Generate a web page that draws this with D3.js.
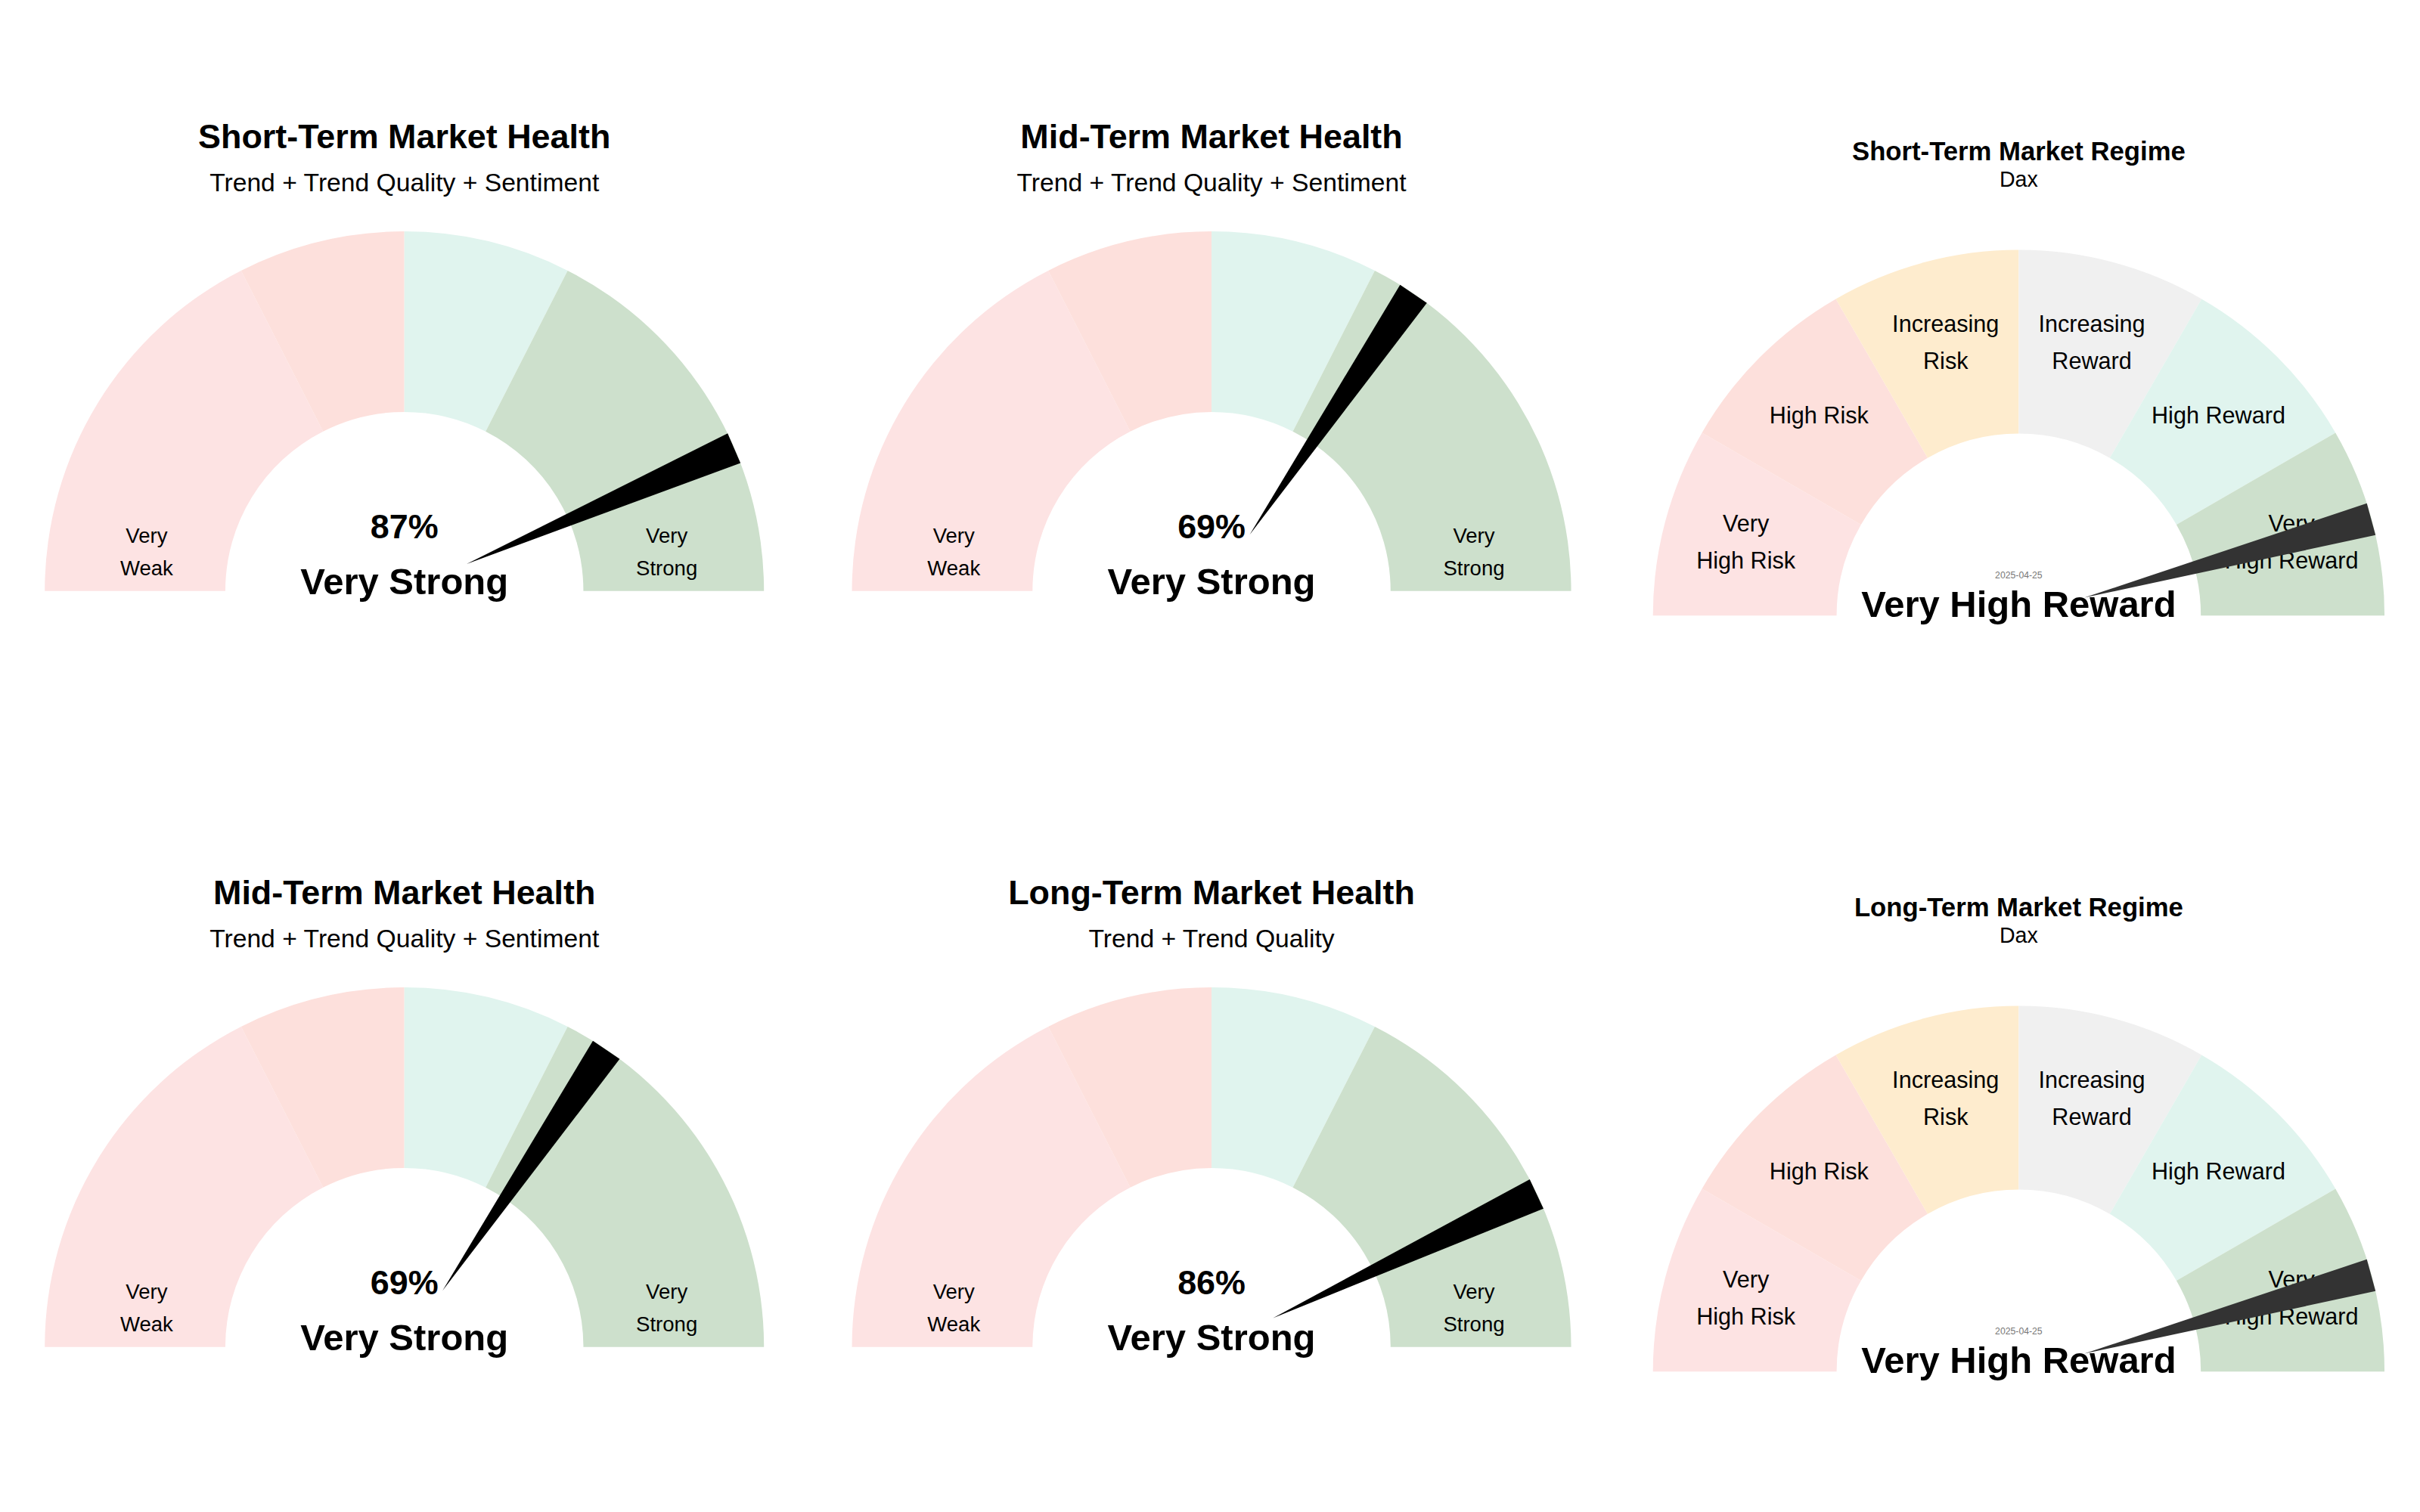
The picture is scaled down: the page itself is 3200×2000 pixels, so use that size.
<!DOCTYPE html>
<html><head><meta charset="utf-8">
<script src="https://cdn.jsdelivr.net/npm/d3@7"></script>
<style>body{margin:0;background:#fff}text{font-family:"Liberation Sans",Arial,sans-serif}</style>
</head><body>
<svg class="face" width="3200" height="2000" viewBox="0 0 1568 980"></svg>
<script>
const svg = d3.select('.face')

// health gauges
const healthTitles = ['Short-Term Market Health','Mid-Term Market Health','Mid-Term Market Health','Long-Term Market Health']
const healthSubtitles = ['Trend + Trend Quality + Sentiment','Trend + Trend Quality + Sentiment','Trend + Trend Quality + Sentiment','Trend + Trend Quality']
const healthValues = [87,69,69,86]
const healthLabels = ['Very Strong','Very Strong','Very Strong','Very Strong']
const healthBreaks = [0,35,50,65,100]
const healthColors = ['#fde3e3','#fde0dc','#e0f4ee','#cde0cc']

// regime gauges
const regimeTitles = ['Short-Term Market Regime','Long-Term Market Regime']
const regimeSubtitle = 'Dax'
const regimeValues = [91.5,91.5]
const regimeLabels = ['Very High Reward','Very High Reward']
const regimeDate = '2025-04-25'
const regimeBands = [['Very','High Risk'],['High Risk'],['Increasing','Risk'],['Increasing','Reward'],['High Reward'],['Very','High Reward']]
const regimeColors = ['#fde3e3','#fde0dc','#feecce','#f0f0f0','#e0f4ee','#cde0cc']

const healthPos = [[262,383],[785,383],[262,873],[785,873]]
const regimePos = [[1308,399],[1308,889]]

// value (0-100) -> angle in radians for d3.arc (0 = up, -PI/2 = left)
const angle = d3.scaleLinear().domain([0,100]).range([-Math.PI/2, Math.PI/2])
const pt = (r,a) => [r*Math.sin(a), -r*Math.cos(a)]

function needle(g, v, rOut, fill){
  const a = angle(v), w = 0.045
  const base = pt(44,a), p1 = pt(rOut, a-w), p2 = pt(rOut, a+w)
  g.append('path').attr('d',`M${base}L${p1}L${p2}Z`).attr('fill',fill)
}

healthValues.forEach((v,i)=>{
  const [cx,cy] = healthPos[i], rO = 233, rI = 116
  const g = svg.append('g').attr('transform',`translate(${cx},${cy})`)
  const arc = d3.arc().innerRadius(rI).outerRadius(rO)
  g.selectAll('path.seg').data(d3.pairs(healthBreaks)).join('path').attr('class','seg')
    .attr('d',d=>arc({startAngle:angle(d[0]),endAngle:angle(d[1])}))
    .attr('fill',(d,j)=>healthColors[j])
  g.append('text').attr('y',-287).attr('text-anchor','middle').attr('font-size',22).attr('font-weight','bold').text(healthTitles[i])
  g.append('text').attr('y',-259).attr('text-anchor','middle').attr('font-size',16.5).text(healthSubtitles[i])
  ;[['Very','Weak',-167],['Very','Strong',170]].forEach(([a,b,x])=>{
    g.append('text').attr('x',x).attr('y',-31).attr('text-anchor','middle').attr('font-size',13.5).text(a)
    g.append('text').attr('x',x).attr('y',-10).attr('text-anchor','middle').attr('font-size',13.5).text(b)
  })
  needle(g, v, rO, '#000')
  g.append('text').attr('y',-34).attr('text-anchor','middle').attr('font-size',22).attr('font-weight','bold').text(v+'%')
  g.append('text').attr('y',2).attr('text-anchor','middle').attr('font-size',24).attr('font-weight','bold').text(healthLabels[i])
})

const regimeScale = d3.scaleBand().domain(d3.range(regimeBands.length)).range([0,100])
regimeValues.forEach((v,i)=>{
  const [cx,cy] = regimePos[i], rO = 237, rI = 118
  const g = svg.append('g').attr('transform',`translate(${cx},${cy})`)
  const arc = d3.arc().innerRadius(rI).outerRadius(rO)
  g.selectAll('path.seg').data(regimeBands).join('path').attr('class','seg')
    .attr('d',(d,j)=>arc({startAngle:angle(regimeScale(j)),endAngle:angle(regimeScale(j)+regimeScale.bandwidth())}))
    .attr('fill',(d,j)=>regimeColors[j])
  regimeBands.forEach((lines,j)=>{
    const [x,y] = pt(183, angle(regimeScale(j)+regimeScale.bandwidth()/2))
    lines.forEach((t,k)=>{
      g.append('text').attr('x',x).attr('y',y+(k-(lines.length-1)/2)*24+5).attr('text-anchor','middle').attr('font-size',15).text(t)
    })
  })
  g.append('text').attr('y',-295).attr('text-anchor','middle').attr('font-size',17).attr('font-weight','bold').text(regimeTitles[i])
  g.append('text').attr('y',-278).attr('text-anchor','middle').attr('font-size',14).text(regimeSubtitle)
  needle(g, v, rO, '#333')
  g.append('text').attr('y',-24).attr('text-anchor','middle').attr('font-size',6).attr('fill','#777').text(regimeDate)
  g.append('text').attr('y',1).attr('text-anchor','middle').attr('font-size',24).attr('font-weight','bold').text(regimeLabels[i])
})
</script>
</body></html>
